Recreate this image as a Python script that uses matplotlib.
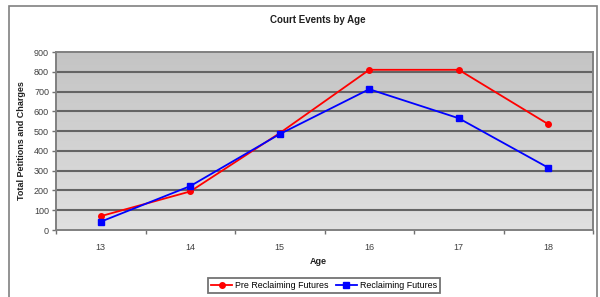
import matplotlib
matplotlib.use("Agg")
import matplotlib.pyplot as plt
import numpy as np
from matplotlib.patches import Rectangle

ages = ["13", "14", "15", "16", "17", "18"]
pre_values = [70, 195, 490, 810, 810, 535]
rec_values = [42, 222, 485, 712, 565, 315]
series_names = ["Pre Reclaiming Futures", "Reclaiming Futures"]
yticks = [0, 100, 200, 300, 400, 500, 600, 700, 800, 900]

plt.rcParams['font.family'] = ['Liberation Sans', 'DejaVu Sans']

fig = plt.figure(figsize=(6, 2.97), dpi=100)
W, H = 600, 297
# outer frame
fig.patches.append(Rectangle((9 / W, -0.05), (597 - 9) / W, 1.05 - 6 / H,
                             transform=fig.transFigure, fill=False,
                             edgecolor="#808080", linewidth=1.2))

ax = fig.add_axes([56 / W, 1 - 230 / H, (593 - 56) / W, (230 - 52) / H])
x = np.arange(len(ages))
ax.set_xlim(-0.5, len(ages) - 0.5)
ax.set_ylim(0, 900)

# gradient background
grad = np.linspace(0, 1, 256).reshape(-1, 1)
ax.imshow(grad, extent=[-0.5, len(ages) - 0.5, 0, 900], aspect="auto",
          cmap=matplotlib.colors.LinearSegmentedColormap.from_list("g", ["#e0e0e0", "#c4c4c4"]),
          origin="lower", zorder=0)

for v in yticks[1:-1]:
    ax.axhline(v, color="#646464", linewidth=1.5, zorder=1)

ax.plot(x, pre_values, color="#ff0000", marker="o", markersize=4, linewidth=1.3,
        label=series_names[0], zorder=3)
ax.plot(x, rec_values, color="#0000ff", marker="s", markersize=4, linewidth=1.3,
        label=series_names[1], zorder=4)

ax.set_yticks(yticks)
ax.set_yticklabels([str(v) for v in yticks])
ax.set_xticks(x)
ax.set_xticklabels(ages)
ax.set_xticks(np.arange(-0.5, len(ages), 1), minor=True)
ax.tick_params(axis="x", which="major", length=0, pad=9, labelsize=6.5, labelcolor="#404040")
ax.tick_params(axis="x", which="minor", length=3, color="#707070", width=1)
ax.tick_params(axis="y", length=3, color="#707070", width=1, labelsize=6.5, labelcolor="#404040", pad=2)

for s in ax.spines.values():
    s.set_color("#808080")
    s.set_linewidth(1.4)

fig.text(318 / W, 1 - 20 / H, "Court Events by Age", ha="center", va="center",
         fontsize=7, fontweight="bold", color="#202020")
fig.text(318 / W, 1 - 262 / H, "Age", ha="center", va="center",
         fontsize=6.5, fontweight="bold", color="#202020")
fig.text(22 / W, 1 - 141 / H, "Total Petitions and Charges", ha="center", va="center",
         rotation=90, fontsize=6.5, fontweight="bold", color="#202020")

leg = fig.legend(loc="center", bbox_to_anchor=(324 / W, 1 - 285.5 / H), ncol=2,
                 fontsize=6.4, frameon=True, fancybox=False, edgecolor="#505050",
                 handlelength=2.4, handletextpad=0.3, columnspacing=0.8,
                 borderpad=0.3, markerscale=1.0)
leg.get_frame().set_linewidth(1.3)

fig.savefig("out.png", dpi=100)
